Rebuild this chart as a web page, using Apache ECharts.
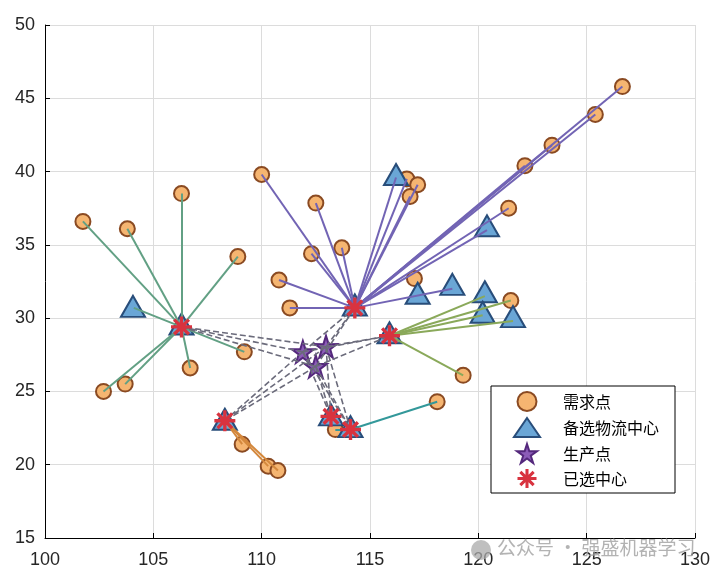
<!DOCTYPE html>
<html>
<head>
<meta charset="utf-8">
<script src="https://cdn.jsdelivr.net/npm/echarts@6/dist/echarts.min.js"></script>
<style>
  html, body { margin: 0; padding: 0; background: #fff; }
  #chart { width: 726px; height: 579px; }
</style>
</head>
<body>
<div id="chart"></div>
<script>
// 需求点坐标（可见的圆点）
const demandPts = [
  [101.75, 36.6], [103.8, 36.1], [106.3, 38.5], [108.9, 34.2], [102.7, 25.0],
  [103.7, 25.5], [106.7, 26.6], [109.2, 27.7], [109.1, 21.4], [110.3, 19.9],
  [110.75, 19.6], [110.0, 39.8], [110.8, 32.6], [111.3, 30.7], [112.5, 37.85],
  [112.3, 34.4], [113.7, 34.8], [116.7, 39.5], [117.2, 39.1], [116.85, 38.3],
  [122.15, 40.4], [121.4, 37.5], [117.05, 32.7], [121.5, 31.2], [119.3, 26.1],
  [118.1, 24.3], [126.65, 45.8], [125.4, 43.9], [123.4, 41.8], [113.4, 22.4]
]
// 被备选中心三角形遮住的需求点（只画连线）
const coveredPts = [
  [104.1, 30.7], [116.2, 39.6], [120.4, 36.0], [118.8, 32.0], [120.3, 31.5],
  [120.2, 30.2], [121.6, 29.8]
]
// 备选物流中心
const candidatePts = [
  [104.06, 30.8], [106.3, 29.6], [108.3, 23.1], [113.2, 23.4], [114.1, 22.6],
  [116.2, 39.8], [120.4, 36.3], [117.2, 31.7], [118.8, 32.3], [120.3, 31.8],
  [120.2, 30.4], [121.6, 30.1], [114.3, 30.9], [115.9, 29.0]
]
// 生产点
const productionPts = [[111.9, 27.7], [112.97, 28.05], [112.5, 26.7]]
// 已选中心
const selectedPts = [
  [106.3, 29.4], [108.3, 23.0], [113.2, 23.3], [114.1, 22.4], [114.3, 30.7], [115.9, 28.8]
]
// 每个已选中心服务的需求点（索引：先 demandPts，再 coveredPts）
const assignGroups = [
  [0, 1, 2, 3, 4, 5, 6, 7, 30],
  [8, 9, 10],
  [],
  [25, 29],
  [11, 12, 13, 14, 15, 16, 17, 18, 19, 20, 21, 26, 27, 28, 31, 32, 33],
  [23, 24, 34, 35, 36]
]
const groupColors = ['#62a084', '#d4883c', '#c9a13e', '#33989a', '#7264b4', '#8aa95a']

const allDemand = demandPts.concat(coveredPts)

const FONT = 'Liberation Sans, Arial, sans-serif'
const CJK = 'Noto Sans CJK SC, sans-serif'

const starPath = 'path://M50 0 L61.17 34.63 L97.55 34.55 L68.07 55.87 L79.39 90.45 L50 69 L20.61 90.45 L31.93 55.87 L2.45 34.55 L38.83 34.63 Z'
const asteriskPath = 'path://M0 42 L100 42 L100 58 L0 58 Z M42 0 L58 0 L58 100 L42 100 Z ' +
  'M20.66 9.34 L90.66 79.34 L79.34 90.66 L9.34 20.66 Z M90.66 20.66 L20.66 90.66 L9.34 79.34 L79.34 9.34 Z'

// 实线：中心 -> 需求点
const assignSeries = assignGroups.map((g, i) => ({
  type: 'lines',
  coordinateSystem: 'cartesian2d',
  silent: true,
  z: 5,
  lineStyle: { color: groupColors[i], width: 2, opacity: 1 },
  data: g.map(d => ({ coords: [selectedPts[i], allDemand[d]] }))
}))

// 虚线：生产点 -> 已选中心
const transportLines = []
productionPts.forEach(p => {
  selectedPts.forEach(c => transportLines.push({ coords: [p, c] }))
})

const myChart = echarts.init(document.getElementById('chart'))

const option = {
  animation: false,
  backgroundColor: '#fff',
  grid: { left: 45, right: 31, top: 25, bottom: 41 },
  xAxis: {
    type: 'value', min: 100, max: 130, interval: 5,
    axisLine: { show: true, onZero: false, lineStyle: { color: '#000', width: 1 } },
    axisTick: { show: true, inside: true, length: 5, lineStyle: { color: '#000' } },
    splitLine: { show: true, lineStyle: { color: '#dcdcdc', width: 1 } },
    axisLabel: { fontFamily: FONT, fontSize: 18, color: '#262626', margin: 13 }
  },
  yAxis: {
    type: 'value', min: 15, max: 50, interval: 5,
    axisLine: { show: true, onZero: false, lineStyle: { color: '#000', width: 1 } },
    axisTick: { show: true, inside: true, length: 5, lineStyle: { color: '#000' } },
    splitLine: { show: true, lineStyle: { color: '#dcdcdc', width: 1 } },
    axisLabel: { fontFamily: FONT, fontSize: 18, color: '#262626', margin: 10 }
  },
  legend: {
    data: ['需求点', '备选物流中心', '生产点', '已选中心'],
    orient: 'vertical',
    left: 491, top: 386,
    backgroundColor: '#fff',
    borderColor: '#000', borderWidth: 1, borderRadius: 0,
    padding: [5, 16, 5, 22],
    itemGap: 5, itemWidth: 26, itemHeight: 19,
    textStyle: { fontFamily: CJK, fontSize: 16, color: '#000', padding: [0, 0, 0, 18] }
  },
  graphic: [
    {
      type: 'circle', left: 471, top: 540,
      shape: { r: 10 }, style: { fill: 'rgba(170,170,170,0.75)' }, z: 100
    },
    {
      type: 'text', left: 497, top: 538, z: 100,
      style: { text: '公众号 · 强盛机器学习', font: '19px ' + CJK, fill: 'rgba(160,160,160,0.8)' }
    }
  ],
  series: [
    {
      name: '需求点', type: 'scatter', z: 2,
      symbol: 'circle', symbolSize: 15,
      itemStyle: { color: '#f5b571', borderColor: '#8a4a22', borderWidth: 2, opacity: 1 },
      data: demandPts
    },
    {
      name: '备选物流中心', type: 'scatter', z: 3,
      symbol: 'triangle', symbolSize: [24, 21],
      itemStyle: { color: '#6aa6d6', borderColor: '#284d7a', borderWidth: 2, opacity: 1 },
      data: candidatePts
    },
    {
      name: '生产点', type: 'scatter', z: 4,
      symbol: starPath, symbolSize: 22,
      itemStyle: { color: '#8c5cb8', borderColor: '#54287c', borderWidth: 2, opacity: 1 },
      data: productionPts
    },
    ...assignSeries,
    {
      type: 'lines', coordinateSystem: 'cartesian2d', silent: true, z: 6,
      lineStyle: { color: '#6b6b7b', width: 1.6, type: [6, 3], opacity: 1 },
      data: transportLines
    },
    {
      name: '已选中心', type: 'scatter', z: 7,
      symbol: asteriskPath, symbolSize: 21,
      itemStyle: { color: '#d8333f', opacity: 1 },
      data: selectedPts
    }
  ]
}

myChart.setOption(option)
</script>
</body>
</html>
